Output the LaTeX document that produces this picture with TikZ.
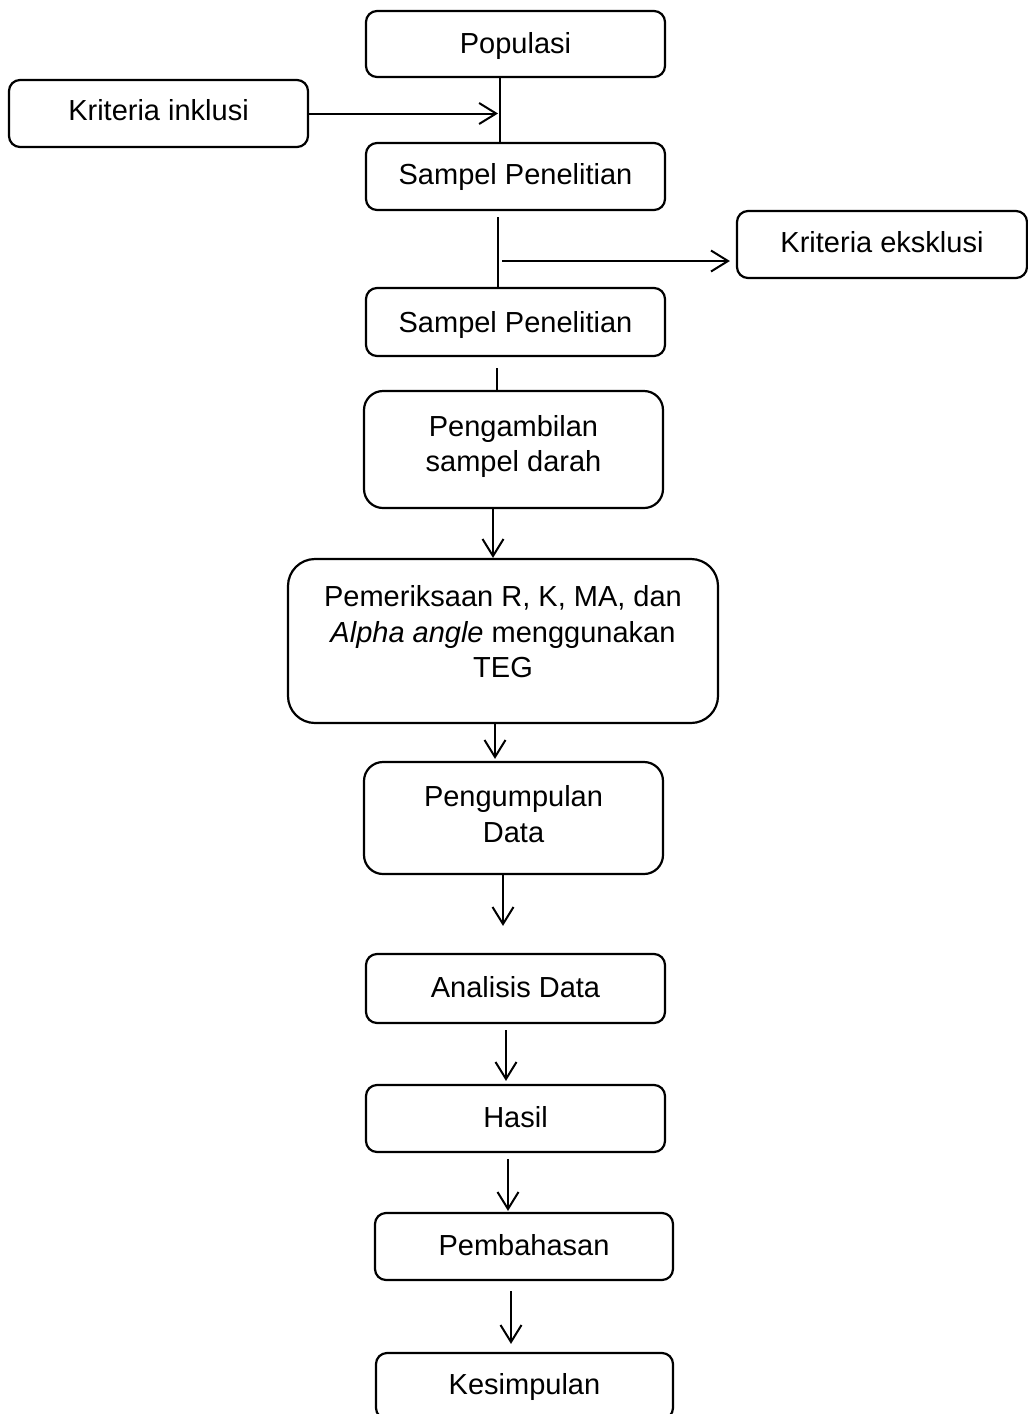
\documentclass[tikz,border=0pt]{standalone}
\usepackage{fontspec}
\setmainfont{Liberation Sans}
\usetikzlibrary{arrows.meta}
\begin{document}
\begin{tikzpicture}[x=1pt,y=-1pt,
  box/.style={draw, line width=2.2pt, inner sep=0pt, minimum width=299pt, minimum height=67pt,
    rounded corners=11pt, font=\fontsize{29pt}{35.5pt}\selectfont, align=center,
    text height=23.5pt, text depth=6.1pt},
  tallbox/.style={box, rounded corners=19pt},
  txt/.style={inner sep=0pt, font=\fontsize{29pt}{35.5pt}\selectfont, align=center},
  ln/.style={line width=2pt},
  arr/.style={line width=2pt, -{Straight Barb[length=17pt,width=21pt,line width=2pt]}}]
\useasboundingbox (0,0) rectangle (1028,1414);
\clip (0,0) rectangle (1028,1414);
\fill[white] (0,0) rectangle (1028,1414);

% boxes
\node[box, minimum height=66pt, text height=24.2pt] (pop) at (515.5,44) {Populasi};
\node[box, text height=19.5pt] (ki) at (158.5,113.5) {Kriteria inklusi};
\node[box, text height=21.1pt] (s1) at (515.5,176.5) {Sampel Penelitian};
\node[box, minimum width=290pt, text height=21.1pt] (ke) at (882,244.5) {Kriteria eksklusi};
\node[box, minimum height=68pt, text height=26.1pt] (s2) at (515.5,322) {Sampel Penelitian};
\node[tallbox, minimum height=117pt] (pa) at (513.5,449.5) {};
\node[txt] (pat) at (513.5,446.5) {Pengambilan\\sampel darah};
\node[box, rounded corners=27pt, minimum width=430pt, minimum height=164pt] (pe) at (503,641) {};
\node[txt] (pet) at (503,632) {Pemeriksaan R, K, MA, dan\\\textit{Alpha angle} menggunakan\\TEG};
\node[tallbox, minimum height=112pt] (pu) at (513.5,818) {};
\node[txt] (put) at (513.5,814) {Pengumpulan\\Data};
\node[box, minimum height=69pt] (an) at (515.5,988.5) {Analisis Data};
\node[box] (ha) at (515.5,1118.5) {Hasil};
\node[box, minimum width=298pt] (pb) at (524,1246.5) {Pembahasan};
\node[box, minimum width=297pt, minimum height=66pt] (ks) at (524.5,1386) {Kesimpulan};

% connectors
\draw[ln] (500,0 |- pop.south) -- (500,0 |- s1.north);
\draw[arr] (ki.east) -- (498,0 |- ki.east);
\coordinate (c1) at (498,217);
\coordinate (c2) at (502,261);
\draw[ln] (c1) -- (c1 |- s2.north);
\draw[arr, shorten >=6pt] (c2) -- (c2 -| ke.west);
\draw[ln, shorten <=11pt] (497,0 |- s2.south) -- (497,0 |- pa.north);
\draw[arr] (493,0 |- pa.south) -- (493,0 |- pe.north);
\draw[arr, shorten >=2pt] (495,0 |- pe.south) -- (495,0 |- pu.north);
\draw[arr, shorten >=27pt] (503,0 |- pu.south) -- (503,0 |- an.north);
\draw[arr, shorten <=6pt, shorten >=3pt] (506,0 |- an.south) -- (506,0 |- ha.north);
\draw[arr, shorten <=6pt, shorten >=1pt] (508,0 |- ha.south) -- (508,0 |- pb.north);
\draw[arr, shorten <=10pt, shorten >=8pt] (511,0 |- pb.south) -- (511,0 |- ks.north);
\end{tikzpicture}
\end{document}
